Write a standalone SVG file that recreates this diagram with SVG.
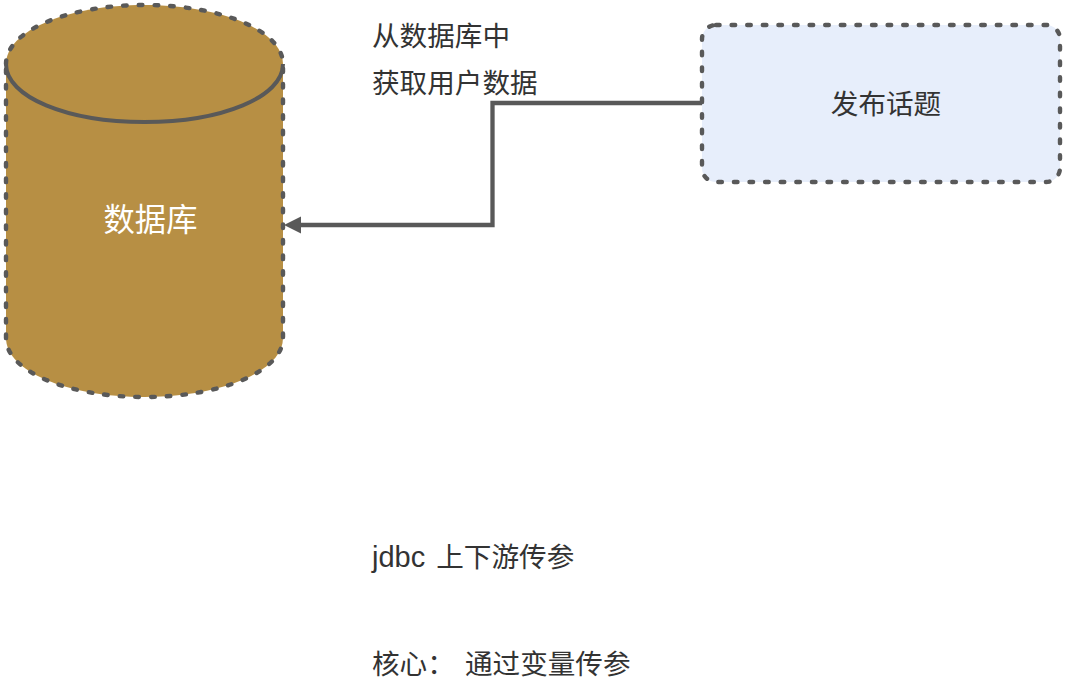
<svg xmlns="http://www.w3.org/2000/svg" width="1066" height="699" viewBox="0 0 1066 699">
<style>
text{font-family:"Noto Sans CJK SC","Liberation Sans",sans-serif;font-size:27.6px;fill:#333}
text.latin{font-family:"Liberation Sans","Noto Sans CJK SC",sans-serif}
.s{stroke:#595959;stroke-width:4.400;stroke-dasharray:3.600 12;stroke-linecap:round}
</style>
<rect width="1066" height="699" fill="#fff"/>
<g id="db">
<path class="s" fill="#b78f44" d="M6 64C6 31 67 5 144.500 5S283 31 283 64V338C283 371 222 397 144.500 397S6 371 6 338Z"/>
<path fill="none" stroke="#595959" stroke-width="4" d="M6 64C6 97 67 122 144.500 122S283 97 283 64"/>
<text x="150.500" y="231" text-anchor="middle" style="fill:#fff;font-size:31.300px">数据库</text>
</g>
<g id="publish">
<rect class="s" x="702" y="25" width="358" height="157" rx="14" fill="#e7eefb"/>
<text x="886" y="114" text-anchor="middle">发布话题</text>
</g>
<g id="connectors">
<path d="M702 103H492.500V225H299" fill="none" stroke="#595959" stroke-width="4.300"/>
<path d="M284 225L301 216.500V233.500Z" fill="#595959"/>
</g>
<g id="labels">
<text x="372" y="46">从数据库中</text>
<text x="372" y="93">获取用户数据</text>
<text class="latin" x="372" y="567"><tspan style="font-size:29px">jdbc </tspan><tspan dx="3">上下游传参</tspan></text>
<text x="372" y="674">核心： <tspan dx="4">通过变量传参</tspan></text>
</g>
</svg>
